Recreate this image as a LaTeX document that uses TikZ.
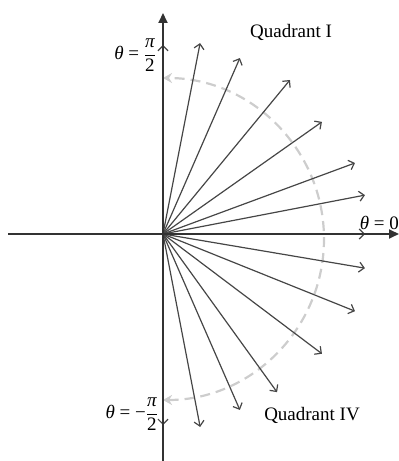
\documentclass[tikz,border=0pt]{standalone}
\usepackage{fontspec}
\setmainfont{Liberation Serif}
\usetikzlibrary{calc, positioning, arrows.meta}
\definecolor{vecGray}{RGB}{70, 70, 70}
\definecolor{axisGray}{RGB}{50, 50, 50}
\definecolor{guideGray}{RGB}{205, 205, 205}

\begin{document}
\begin{tikzpicture}[x=1pt, y=1pt,
    axis/.style={line width=1.8pt, draw=axisGray, -{Triangle[length=10pt, width=9pt]}},
    vec/.style={line width=1.2pt, draw=vecGray, -{Straight Barb[length=5pt, width=10pt]}},
    guide/.style={line width=2.2pt, draw=guideGray, dash pattern=on 10pt off 6pt,
      {Stealth[length=9pt, width=10pt]}-{Stealth[length=9pt, width=10pt]}},
    lbl/.style={font=\fontsize{19}{22}\selectfont, inner sep=0pt}]
  \useasboundingbox (0,0) rectangle (399,461);

  \coordinate (O) at (163,227);
  \coordinate (arcC) at (163,222);
  \coordinate (xL) at (8,227);
  \coordinate (xR) at (399,227);
  \coordinate (yB) at (163,0);
  \coordinate (yT) at (163,448);

  % half circle of directions
  \draw[guide] ($(arcC)+(-90:161)$) arc[start angle=-90, end angle=90, radius=161];

  % vectors
  \foreach \ang/\len in {90/189, 79/194.5, 66.4/192, 50.5/199.6, 35.2/194.5, 20.3/204.7, 10.9/205.7, 0/202,
                         -9.6/204.8, -21.9/206.9, -37/199, -54.2/195, -66.4/192, -79.1/196.5, -90/191}
    \draw[vec] (O) -- ++(\ang:\len);

  % axes
  \draw[axis] (xL) -- (xR);
  \draw[axis] (yB) -- (yT);

  \node[lbl] (quadI) at (291,429) {Quadrant I};
  \node[lbl] (quadIV) at (312,46) {Quadrant IV};
  \node[lbl, anchor=east] (thTop) at (156,406)
    {$\displaystyle \mbox{\itshape θ} \mbox{ = } \frac{\mbox{\itshape π}}{\mbox{2}}$};
  \node[lbl, anchor=east] (thBot) at (158,47)
    {$\displaystyle \mbox{\itshape θ} \mbox{ = } \mbox{−}\frac{\mbox{\itshape π}}{\mbox{2}}$};
  \node[lbl, anchor=east] (thZero) at (399,238) {\itshape θ\upshape\ = 0};
\end{tikzpicture}
\end{document}
